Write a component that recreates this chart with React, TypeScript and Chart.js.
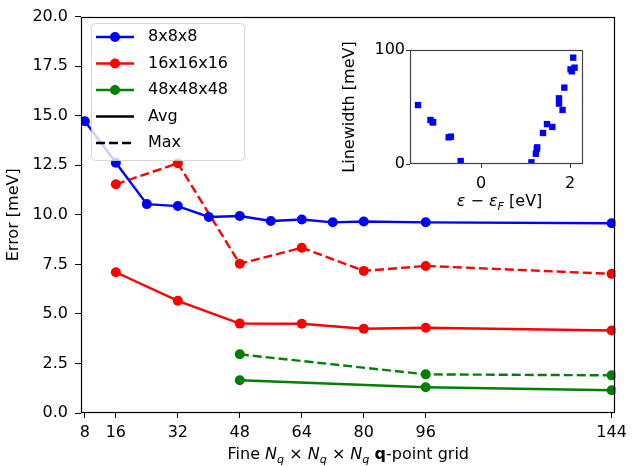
import React, { useEffect, useRef } from 'react';
import { Chart, registerables } from 'chart.js';

Chart.register(...registerables);

// ---------- data ----------
const GRID_8 = [8, 16, 24, 32, 40, 48, 56, 64, 72, 80, 96, 144];
const AVG_8 = [14.72, 12.63, 10.54, 10.44, 9.89, 9.94, 9.69, 9.76, 9.62, 9.66, 9.62, 9.57];
const GRID_16 = [16, 32, 48, 64, 80, 96, 144];
const AVG_16 = [7.1, 5.66, 4.51, 4.5, 4.25, 4.3, 4.16];
const MAX_16 = [11.54, 12.6, 7.53, 8.34, 7.17, 7.42, 7.02];
const GRID_48 = [48, 96, 144];
const AVG_48 = [1.65, 1.3, 1.15];
const MAX_48 = [2.96, 1.95, 1.9];
const X_TICKS = [8, 16, 32, 48, 64, 80, 96, 144];
const LEGEND_LABELS = ['8x8x8', '16x16x16', '48x48x48', 'Avg', 'Max'];
const LEGEND_COLORS = ['#0000ff', '#ff0000', '#008000', '#000000', '#000000'];

const INSET_E = [-1.42, -1.14, -1.09, -1.08, -0.73, -0.68, -0.46, 1.13, 1.23, 1.25, 1.26, 1.39, 1.48, 1.6, 1.75, 1.75, 1.83, 1.87, 2.01, 2.04, 2.1, 2.07];
const INSET_W = [51.7, 38.6, 36.8, 36.5, 23.4, 24, 2.6, 1.5, 9, 13.1, 14.6, 27.2, 35, 32.5, 57.6, 53, 47.4, 67, 83, 81.3, 84.5, 93.3];
const INSET_X_TICKS = [0, 2];
const INSET_Y_TICKS = [0, 100];

const FAM = 'DejaVu Sans';
const FS = 16;
const DASH = [9, 4];
const LW = 2.4;

type Seg = { t: string; style?: 'italic' | 'bold'; sub?: boolean };

function drawRich(ctx: CanvasRenderingContext2D, segs: Seg[], cx: number, baseline: number) {
  const font = (s: Seg) =>
    `${s.style === 'italic' ? 'italic ' : ''}${s.style === 'bold' ? 'bold ' : ''}${s.sub ? FS * 0.7 : FS}px "${FAM}"`;
  let total = 0;
  const widths = segs.map((s) => {
    ctx.font = font(s);
    const w = ctx.measureText(s.t).width;
    total += w;
    return w;
  });
  let x = cx - total / 2;
  ctx.save();
  ctx.fillStyle = '#000';
  ctx.textAlign = 'left';
  ctx.textBaseline = 'alphabetic';
  segs.forEach((s, i) => {
    ctx.font = font(s);
    ctx.fillText(s.t, x, baseline + (s.sub ? FS * 0.22 : 0));
    x += widths[i];
  });
  ctx.restore();
}

function frame(color: string) {
  return {
    id: 'frame' + color.replace('#', ''),
    afterDatasetsDraw(chart: any) {
      const { ctx, chartArea: a } = chart;
      ctx.save();
      ctx.strokeStyle = color;
      ctx.lineWidth = 1.2;
      ctx.strokeRect(Math.round(a.left) + 0.5, Math.round(a.top) + 0.5, Math.round(a.right - a.left) - 1, Math.round(a.bottom - a.top) - 1);
      ctx.restore();
    },
  };
}

const mainExtras = {
  id: 'mainExtras',
  afterDraw(chart: any) {
    const { ctx, chartArea: a } = chart;
    // legend
    ctx.save();
    const lx = 91.5, ly = 23.5, lw = 153, lh = 137, r = 4;
    ctx.beginPath();
    ctx.moveTo(lx + r, ly);
    ctx.arcTo(lx + lw, ly, lx + lw, ly + lh, r);
    ctx.arcTo(lx + lw, ly + lh, lx, ly + lh, r);
    ctx.arcTo(lx, ly + lh, lx, ly, r);
    ctx.arcTo(lx, ly, lx + lw, ly, r);
    ctx.closePath();
    ctx.fillStyle = 'rgba(255,255,255,0.8)';
    ctx.fill();
    ctx.strokeStyle = 'rgba(204,204,204,0.8)';
    ctx.lineWidth = 1;
    ctx.stroke();
    const ys = [37, 63.5, 90, 116.5, 143];
    LEGEND_LABELS.forEach((lab, i) => {
      const y = ys[i];
      ctx.strokeStyle = LEGEND_COLORS[i];
      ctx.lineWidth = LW;
      ctx.setLineDash(i === 4 ? DASH : []);
      ctx.beginPath();
      ctx.moveTo(96, y);
      ctx.lineTo(134, y);
      ctx.stroke();
      ctx.setLineDash([]);
      if (i < 3) {
        ctx.fillStyle = LEGEND_COLORS[i];
        ctx.beginPath();
        ctx.arc(115, y, 5, 0, Math.PI * 2);
        ctx.fill();
      }
      ctx.fillStyle = '#000';
      ctx.font = `${FS}px "${FAM}"`;
      ctx.textBaseline = 'middle';
      ctx.textAlign = 'left';
      ctx.fillText(lab, 148, y);
    });
    ctx.restore();
    // x title
    drawRich(
      ctx,
      [
        { t: 'Fine ' },
        { t: 'N', style: 'italic' },
        { t: 'q', style: 'italic', sub: true },
        { t: ' × ' },
        { t: 'N', style: 'italic' },
        { t: 'q', style: 'italic', sub: true },
        { t: ' × ' },
        { t: 'N', style: 'italic' },
        { t: 'q', style: 'italic', sub: true },
        { t: ' ' },
        { t: 'q', style: 'bold' },
        { t: '-point grid' },
      ],
      (a.left + a.right) / 2,
      459
    );
  },
};

const insetExtras = {
  id: 'insetExtras',
  afterDraw(chart: any) {
    const { ctx, chartArea: a } = chart;
    drawRich(
      ctx,
      [
        { t: 'ε', style: 'italic' },
        { t: ' − ' },
        { t: 'ε', style: 'italic' },
        { t: 'F', style: 'italic', sub: true },
        { t: ' [eV]' },
      ],
      (a.left + a.right) / 2 + 3,
      186
    );
  },
};

function series(xs: number[], ys: number[], color: string, dashed: boolean) {
  return {
    data: xs.map((x, i) => ({ x, y: ys[i] })),
    borderColor: color,
    backgroundColor: color,
    borderWidth: LW,
    borderDash: dashed ? DASH : [],
    pointRadius: 5,
    pointHoverRadius: 5,
    pointBorderWidth: 0,
    pointBackgroundColor: color,
    tension: 0,
    fill: false,
  };
}

export default function App() {
  const mainRef = useRef<HTMLCanvasElement>(null);
  const insetRef = useRef<HTMLCanvasElement>(null);

  useEffect(() => {
    Chart.defaults.font.family = FAM;
    Chart.defaults.font.size = FS;
    Chart.defaults.color = '#000';

    const main = new Chart(mainRef.current!, {
      type: 'line',
      data: {
        datasets: [
          series(GRID_8, AVG_8, '#0000ff', false),
          series(GRID_16, AVG_16, '#ff0000', false),
          series(GRID_16, MAX_16, '#ff0000', true),
          series(GRID_48, AVG_48, '#008000', false),
          series(GRID_48, MAX_48, '#008000', true),
        ] as any,
      },
      options: {
        responsive: false,
        animation: false,
        events: [],
        layout: { padding: { left: 0, top: 14, right: 15, bottom: 0 } },
        plugins: { legend: { display: false }, tooltip: { enabled: false } },
        scales: {
          x: {
            type: 'linear',
            min: 7,
            max: 145,
            afterBuildTicks: (s: any) => {
              s.ticks = X_TICKS.map((v) => ({ value: v }));
            },
            afterFit: (s: any) => {
              s.height = 53;
            },
            ticks: { autoSkip: false, maxRotation: 0, padding: 5, callback: (v: any) => String(v) },
            grid: { display: true, drawOnChartArea: false, drawTicks: true, tickLength: 5, color: '#000' },
            border: { display: false },
          },
          y: {
            type: 'linear',
            min: 0,
            max: 20,
            ticks: { stepSize: 2.5, padding: 7, callback: (v: any) => Number(v).toFixed(1) },
            afterFit: (s: any) => {
              s.width = 81;
            },
            grid: { display: true, drawOnChartArea: false, drawTicks: true, tickLength: 6, color: '#000' },
            border: { display: false },
            title: { display: true, text: 'Error [meV]', padding: { top: 4, bottom: 4 } },
          },
        },
      } as any,
      plugins: [frame('#000'), mainExtras],
    });

    const inset = new Chart(insetRef.current!, {
      type: 'scatter',
      data: {
        datasets: [
          {
            data: INSET_E.map((x, i) => ({ x, y: INSET_W[i] })),
            pointStyle: 'rect',
            pointRadius: 4.5,
            pointHoverRadius: 4.5,
            pointBorderWidth: 0,
            backgroundColor: '#0000ff',
            borderColor: '#0000ff',
          },
        ] as any,
      },
      options: {
        responsive: false,
        animation: false,
        events: [],
        layout: { padding: { left: 0, top: 30, right: 17, bottom: 0 } },
        plugins: { legend: { display: false }, tooltip: { enabled: false } },
        scales: {
          x: {
            type: 'linear',
            min: -1.6,
            max: 2.29,
            afterBuildTicks: (s: any) => {
              s.ticks = INSET_X_TICKS.map((v) => ({ value: v }));
            },
            afterFit: (s: any) => {
              s.height = 56;
            },
            ticks: { autoSkip: false, maxRotation: 0, padding: 6, callback: (v: any) => String(v) },
            grid: { display: true, drawOnChartArea: false, drawTicks: true, tickLength: 4, color: '#333' },
            border: { display: false },
          },
          y: {
            type: 'linear',
            min: 0,
            max: 100,
            afterBuildTicks: (s: any) => {
              s.ticks = INSET_Y_TICKS.map((v) => ({ value: v }));
            },
            afterFit: (s: any) => {
              s.width = 80;
            },
            ticks: { padding: 1, callback: (v: any) => String(v) },
            grid: { display: true, drawOnChartArea: false, drawTicks: true, tickLength: 4, color: '#333' },
            border: { display: false },
            title: { display: true, text: 'Linewidth [meV]', padding: { top: 10, bottom: 4 } },
          },
        },
      } as any,
      plugins: [frame('#444'), insetExtras],
    });

    return () => {
      main.destroy();
      inset.destroy();
    };
  }, []);

  return (
    <div style={{ position: 'fixed', left: 0, top: 0, width: 632, height: 466, background: '#fff' }}>
      <canvas ref={mainRef} width={632} height={466} style={{ position: 'absolute', left: 0, top: 0, width: 632, height: 466 }} />
      <canvas ref={insetRef} width={270} height={200} style={{ position: 'absolute', left: 330, top: 20, width: 270, height: 200 }} />
    </div>
  );
}
